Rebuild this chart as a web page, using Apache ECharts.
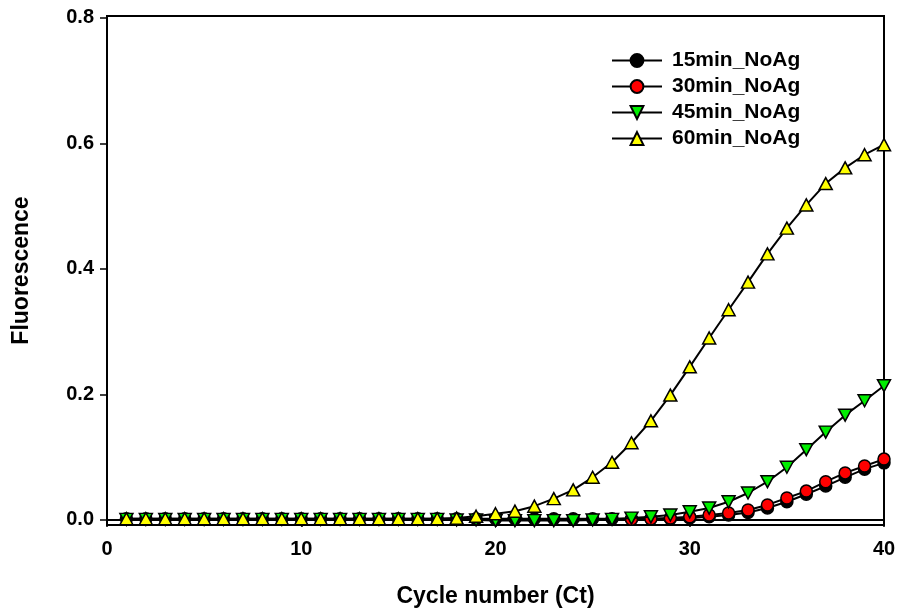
<!DOCTYPE html>
<html>
<head>
<meta charset="utf-8">
<script src="https://cdn.jsdelivr.net/npm/echarts@6/dist/echarts.min.js"></script>
<style>html,body{margin:0;padding:0;background:#fff}#chart{width:900px;height:615px}</style>
</head>
<body>
<div id="chart"></div>
<script>
const cycles = [1,2,3,4,5,6,7,8,9,10,11,12,13,14,15,16,17,18,19,20,21,22,23,24,25,26,27,28,29,30,31,32,33,34,35,36,37,38,39,40];
const seriesNames = ['15min_NoAg','30min_NoAg','45min_NoAg','60min_NoAg'];
const min15 = [0.002,0.002,0.002,0.002,0.002,0.002,0.002,0.002,0.002,0.002,0.002,0.002,0.002,0.002,0.002,0.002,0.002,0.002,0.002,0.002,0.002,0.002,0.002,0.002,0.002,0.002,0.002,0.002,0.002,0.003,0.005,0.008,0.012,0.019,0.029,0.041,0.054,0.068,0.081,0.091];
const min30 = [null,null,null,null,null,null,null,null,null,null,null,null,null,null,null,null,null,null,null,null,null,null,null,null,null,null,0.001,0.002,0.003,0.005,0.008,0.011,0.016,0.024,0.035,0.046,0.061,0.075,0.086,0.097];
const min45 = [0.001,0.001,0.001,0.001,0.001,0.001,0.001,0.001,0.001,0.001,0.001,0.001,0.001,0.001,0.001,0.001,0.001,0.000,0.000,-0.001,-0.001,-0.001,-0.001,-0.001,0.000,0.001,0.003,0.005,0.008,0.013,0.019,0.029,0.043,0.061,0.084,0.112,0.140,0.167,0.190,0.214];
const min60 = [0.002,0.002,0.002,0.002,0.002,0.002,0.002,0.002,0.002,0.002,0.002,0.002,0.002,0.002,0.002,0.002,0.002,0.003,0.006,0.010,0.014,0.022,0.034,0.048,0.068,0.092,0.123,0.158,0.199,0.244,0.290,0.335,0.379,0.424,0.465,0.502,0.536,0.561,0.582,0.598];
const yTicks = [0, 0.2, 0.4, 0.6, 0.8];
const xTicks = [0, 10, 20, 30, 40];

const FONT = '"Liberation Sans", Arial, sans-serif';
const fills = ['#000000', '#ff0000', '#00ee00', '#ffff00'];
const symbols = ['circle', 'circle', 'path://M0,0 L10,0 L5,9 Z', 'path://M5,0 L10,9 L0,9 Z'];
const sizes = [12, 12, [13, 12], [13, 12]];
const dataSets = [min15, min30, min45, min60];

const chart = echarts.init(document.getElementById('chart'), null, {renderer: 'canvas'});
chart.setOption({
  animation: false,
  backgroundColor: '#fff',
  grid: {left: 107, right: 16, top: 16, bottom: 90, show: true, borderColor: '#000', borderWidth: 2, containLabel: false},
  legend: {
    orient: 'vertical', left: 611, top: 50, padding: 0, itemWidth: 50, itemHeight: 16, itemGap: 5,
    data: seriesNames,
    textStyle: {fontFamily: FONT, fontWeight: 'bold', fontSize: 21, lineHeight: 16, color: '#000', padding: [0,0,0,5]}
  },
  xAxis: {
    type: 'value', min: 0, max: 40, interval: 10,
    name: 'Cycle number (Ct)', nameLocation: 'middle', nameGap: 60,
    nameTextStyle: {fontFamily: FONT, fontWeight: 'bold', fontSize: 23, color: '#000'},
    axisLine: {show: true, lineStyle: {color: '#000', width: 2}},
    axisTick: {show: true, inside: false, length: 7, customValues: xTicks, lineStyle: {color: '#000', width: 1.5}},
    axisLabel: {fontFamily: FONT, fontWeight: 'bold', fontSize: 20, color: '#000', margin: 14, customValues: xTicks},
    splitLine: {show: false}
  },
  yAxis: {
    type: 'value', min: -0.008, max: 0.803,
    name: 'Fluorescence', nameLocation: 'middle', nameGap: 74, nameRotate: 90,
    nameTextStyle: {fontFamily: FONT, fontWeight: 'bold', fontSize: 23, color: '#000'},
    axisLine: {show: true, lineStyle: {color: '#000', width: 2}},
    axisTick: {show: true, inside: false, length: 7, customValues: yTicks, lineStyle: {color: '#000', width: 1.5}},
    axisLabel: {fontFamily: FONT, fontWeight: 'bold', fontSize: 20, color: '#000', margin: 13, customValues: yTicks,
      formatter: v => v.toFixed(1)},
    splitLine: {show: false}
  },
  series: seriesNames.map((n, i) => ({
    name: n, type: 'line',
    data: cycles.map((c, j) => [c, dataSets[i][j]]),
    symbol: symbols[i], symbolSize: sizes[i], showAllSymbol: true, connectNulls: false,
    lineStyle: {color: '#000', width: 2},
    itemStyle: {color: fills[i], borderColor: '#000', borderWidth: 1.5},
    z: 2 + i,
    clip: false
  }))
});
</script>
</body>
</html>
